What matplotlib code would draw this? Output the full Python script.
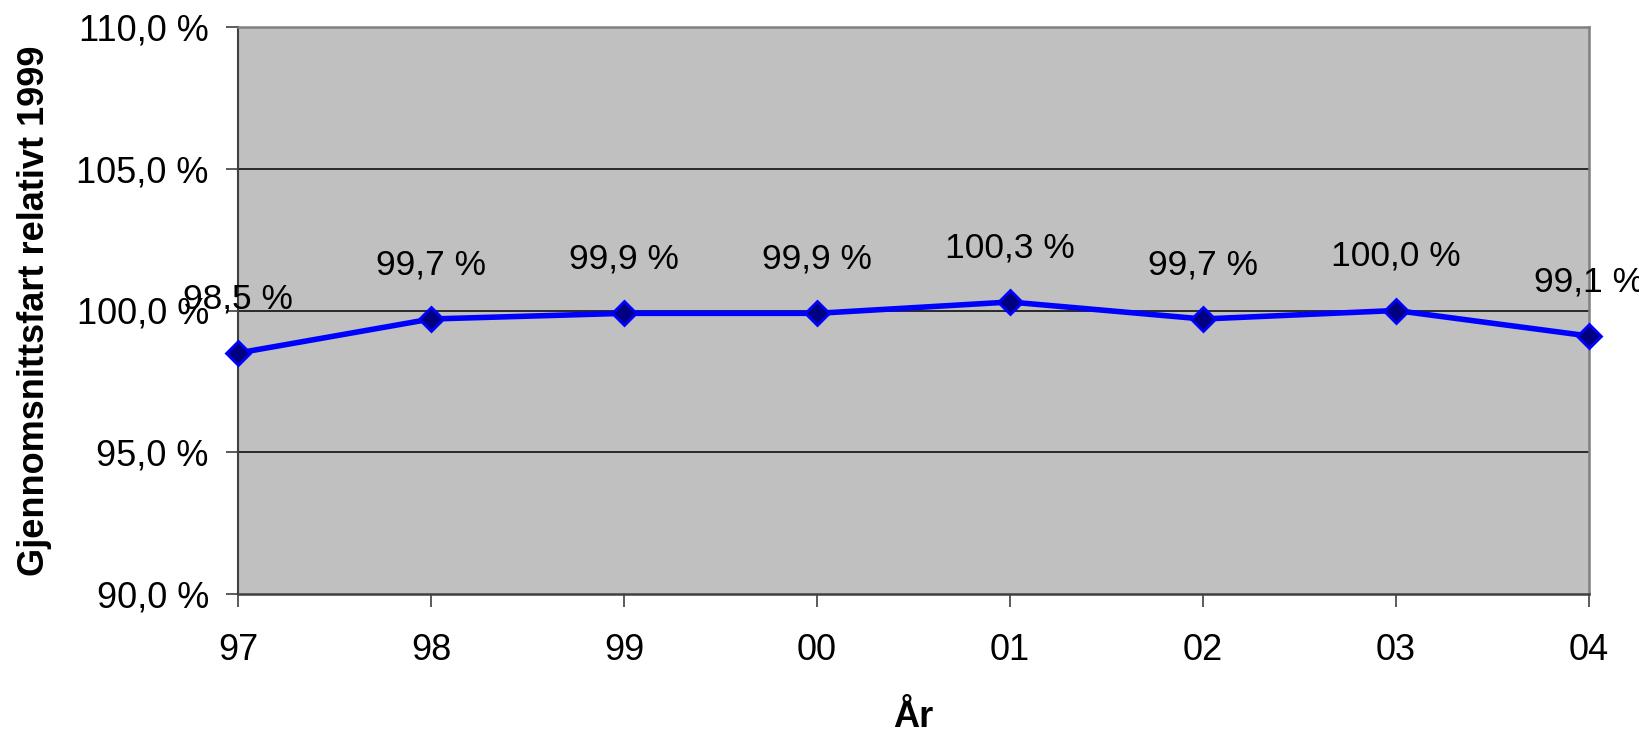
import matplotlib
matplotlib.use("Agg")
import matplotlib.pyplot as plt
from matplotlib.ticker import FuncFormatter

# gjennomsnittsfart relativt 1999, per år
years = ["97", "98", "99", "00", "01", "02", "03", "04"]
speed_rel = [98.5, 99.7, 99.9, 99.9, 100.3, 99.7, 100.0, 99.1]
yticks = [90, 95, 100, 105, 110]

plt.rcParams["font.family"] = ["Liberation Sans", "DejaVu Sans"]

W, H = 1639, 730
fig = plt.figure(figsize=(W/100, H/100), dpi=100)
ax = fig.add_axes([238/W, 1-594/H, (1589-238)/W, (594-27)/H])
ax.set_facecolor("#c0c0c0")

x = list(range(len(years)))
ax.plot(x, speed_rel, color="#0000ff", lw=4, marker="D", ms=12.5,
        mfc="#000080", mec="#0000ff", mew=2, clip_on=False, zorder=3)

fmt = lambda v: f"{v:.1f}".replace(".", ",") + " %"
for xi, v in zip(x, speed_rel):
    ax.annotate(fmt(v), (xi, v), xytext=(0, 39), textcoords="offset points",
                ha="center", va="center", fontsize=25.5, color="black", zorder=4,
                annotation_clip=False)

ax.set_xlim(0, len(years)-1)
ax.set_ylim(90, 110)
ax.set_xticks(x, years)
ax.set_yticks(yticks)
ax.yaxis.set_major_formatter(FuncFormatter(lambda v, p: fmt(v)))
ax.tick_params(axis="both", labelsize=26, length=9, width=1.2, color="#404040")
ax.tick_params(axis="x", pad=19)
ax.tick_params(axis="y", pad=12)

for yv in yticks[1:-1]:
    ax.axhline(yv, color="black", lw=1.1, zorder=1)

ax.spines["left"].set_color("#404040"); ax.spines["left"].set_linewidth(1.5)
ax.spines["bottom"].set_color("#404040"); ax.spines["bottom"].set_linewidth(1.8)
ax.spines["top"].set_color("#808080"); ax.spines["top"].set_linewidth(1.8)
ax.spines["right"].set_color("#808080"); ax.spines["right"].set_linewidth(1.8)

ax.set_ylabel("Gjennomsnittsfart relativt 1999", fontsize=26, fontweight="bold")
ax.yaxis.set_label_coords(-0.138, 0.5)
fig.text(913/W, 1-727/H, "År", fontsize=26, fontweight="bold",
         ha="center", va="baseline")

fig.savefig("out.png", dpi=100, facecolor="white")
